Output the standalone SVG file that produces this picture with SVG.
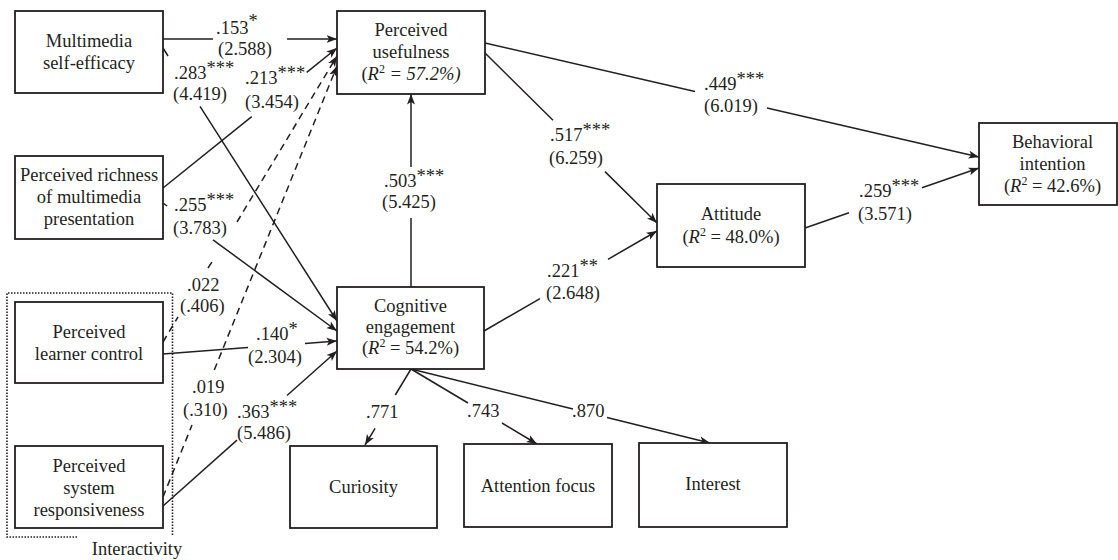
<svg xmlns="http://www.w3.org/2000/svg" width="1118" height="560" viewBox="0 0 1118 560">
<defs>
<style>
.box { fill: #fff; stroke: #231f20; stroke-width: 1.8; }
.t { font-family: "Liberation Serif", "Times New Roman", serif; font-size: 18.5px; fill: #231f20; }
.c { text-anchor: middle; }
.edge { fill: none; stroke: #231f20; stroke-width: 1.5; }
.dash { stroke-dasharray: 7 5; }
.arr { marker-end: url(#ah); }
.group { fill: none; stroke: #231f20; stroke-width: 1.6; stroke-dasharray: 1.5 1.5; }
</style>
<marker id="ah" markerUnits="userSpaceOnUse" markerWidth="11" markerHeight="9" refX="10.5" refY="4" orient="auto" viewBox="0 0 11 8">
<path d="M0,0 L10.5,4 L0,8 L2.5,4 Z" fill="#231f20"/>
</marker>
</defs>
<rect width="1118" height="560" fill="#fff"/>

<g id="interactivity">
<path class="group" d="M77,537 H7 V293 H172.5 V535"/>
<text class="t c" x="137" y="555">Interactivity</text>
</g>

<g id="connectors">
<path id="e-mse-pu" class="edge arr" d="M163,39 L213,39 M287,39 L337,39"/>
<path id="e-mse-ce" class="edge arr" d="M163,48 L168,56 M200,106.3 L337,321"/>
<path id="e-rich-pu" class="edge arr" d="M163,188 L251.7,116.6 M306.7,72.4 L337,48"/>
<path id="e-rich-ce" class="edge arr" d="M163,203 L167,206 M213,239.8 L337,331"/>
<path id="e-plc-pu" class="edge dash arr" d="M163,342 L178,317 M208,268 L212,262 M237,222 L337,56"/>
<path id="e-psr-pu" class="edge dash arr" d="M163,497 L192,425 M214.3,370 L337,66"/>
<path id="e-plc-ce" class="edge arr" d="M163,354 L248,347.6 M305,343.4 L337,341"/>
<path id="e-psr-ce" class="edge arr" d="M163,506 L237,440.1 M287,395.5 L337,351"/>
<path id="e-ce-pu" class="edge arr" d="M411,287 L411,218 M411,167 L411,94"/>
<path id="e-pu-att" class="edge arr" d="M485,53 L553,120.2 M605,171.6 L657,223"/>
<path id="e-pu-bi" class="edge arr" d="M485,43 L695,91.5 M767,108.1 L979,157"/>
<path id="e-ce-att" class="edge arr" d="M484,331 L540,298.6 M608,259.3 L657,231"/>
<path id="e-att-bi" class="edge arr" d="M805,228 L849,212.8 M922,187.7 L979,168"/>
<path id="e-ce-cur" class="edge arr" d="M411,369 L395.3,395 M375.1,428.3 L365,445"/>
<path id="e-ce-foc" class="edge arr" d="M411,369 L468,403 M502,423 L537,444"/>
<path id="e-ce-int" class="edge arr" d="M411,369 L573,409.1 M607,417.5 L710,443"/>

<g id="edge-labels">
<text class="t" x="216" y="34">.153<tspan dy="-7">*</tspan></text>
<text class="t" x="218" y="55">(2.588)</text>
<text class="t" x="174" y="79">.283<tspan dy="-5">***</tspan></text>
<text class="t" x="173" y="100">(4.419)</text>
<text class="t" x="245" y="84">.213<tspan dy="-5">***</tspan></text>
<text class="t" x="245" y="108">(3.454)</text>
<text class="t" x="174" y="211">.255<tspan dy="-5">***</tspan></text>
<text class="t" x="173" y="234">(3.783)</text>
<text class="t" x="187" y="291">.022</text>
<text class="t" x="180" y="312">(.406)</text>
<text class="t" x="256" y="340">.140<tspan dy="-5">*</tspan></text>
<text class="t" x="248" y="363">(2.304)</text>
<text class="t" x="192" y="393">.019</text>
<text class="t" x="183" y="416">(.310)</text>
<text class="t" x="237" y="418">.363<tspan dy="-5">***</tspan></text>
<text class="t" x="237" y="439">(5.486)</text>
<text class="t" x="384" y="187">.503<tspan dy="-5">***</tspan></text>
<text class="t" x="382" y="208">(5.425)</text>
<text class="t" x="550" y="141">.517<tspan dy="-5">***</tspan></text>
<text class="t" x="549" y="164">(6.259)</text>
<text class="t" x="704" y="90">.449<tspan dy="-5">***</tspan></text>
<text class="t" x="704" y="112">(6.019)</text>
<text class="t" x="547" y="277">.221<tspan dy="-5">**</tspan></text>
<text class="t" x="546" y="299">(2.648)</text>
<text class="t" x="859" y="197">.259<tspan dy="-5">***</tspan></text>
<text class="t" x="858" y="220">(3.571)</text>
<text class="t" x="366" y="418">.771</text>
<text class="t" x="467" y="417">.743</text>
<text class="t" x="572" y="417">.870</text>
</g>
</g>

<g id="n-mse">
<rect class="box" x="15" y="11" width="148" height="82"/>
<text class="t c" x="89" y="47">Multimedia</text>
<text class="t c" x="89" y="69">self-efficacy</text>
</g>
<g id="n-rich">
<rect class="box" x="15" y="156" width="148" height="83"/>
<text class="t c" x="89" y="181">Perceived richness</text>
<text class="t c" x="89" y="203">of multimedia</text>
<text class="t c" x="89" y="225">presentation</text>
</g>
<g id="n-plc">
<rect class="box" x="15" y="302" width="148" height="81"/>
<text class="t c" x="89" y="338">Perceived</text>
<text class="t c" x="89" y="360">learner control</text>
</g>
<g id="n-psr">
<rect class="box" x="15" y="446" width="148" height="82"/>
<text class="t c" x="89" y="472">Perceived</text>
<text class="t c" x="89" y="494">system</text>
<text class="t c" x="89" y="516">responsiveness</text>
</g>
<g id="n-pu">
<rect class="box" x="337" y="11" width="148" height="83"/>
<text class="t c" x="411" y="36">Perceived</text>
<text class="t c" x="411" y="58">usefulness</text>
<text class="t c" x="411" y="80">(<tspan font-style="italic">R</tspan><tspan font-size="12" dy="-7">2</tspan><tspan dy="7" font-style="italic"> = 57.2%)</tspan></text>
</g>
<g id="n-ce">
<rect class="box" x="337" y="287" width="147" height="82"/>
<text class="t c" x="410.5" y="312">Cognitive</text>
<text class="t c" x="410.5" y="333">engagement</text>
<text class="t c" x="410.5" y="354">(<tspan font-style="italic">R</tspan><tspan font-size="12" dy="-7">2</tspan><tspan dy="7"> = 54.2%)</tspan></text>
</g>
<g id="n-att">
<rect class="box" x="657" y="184" width="148" height="83"/>
<text class="t c" x="731" y="220">Attitude</text>
<text class="t c" x="731" y="243">(<tspan font-style="italic">R</tspan><tspan font-size="12" dy="-7">2</tspan><tspan dy="7"> = 48.0%)</tspan></text>
</g>
<g id="n-bi">
<rect class="box" x="979" y="123" width="138" height="82"/>
<text class="t c" x="1052.5" y="148">Behavioral</text>
<text class="t c" x="1052.5" y="170">intention</text>
<text class="t c" x="1052.5" y="192">(<tspan font-style="italic">R</tspan><tspan font-size="12" dy="-7">2</tspan><tspan dy="7"> = 42.6%)</tspan></text>
</g>
<g id="n-cur">
<rect class="box" x="290" y="446" width="147" height="82"/>
<text class="t c" x="363.5" y="493">Curiosity</text>
</g>
<g id="n-foc">
<rect class="box" x="464" y="444" width="148" height="83"/>
<text class="t c" x="538" y="492">Attention focus</text>
</g>
<g id="n-int">
<rect class="box" x="639" y="443" width="148" height="84"/>
<text class="t c" x="713" y="490">Interest</text>
</g>
</svg>
